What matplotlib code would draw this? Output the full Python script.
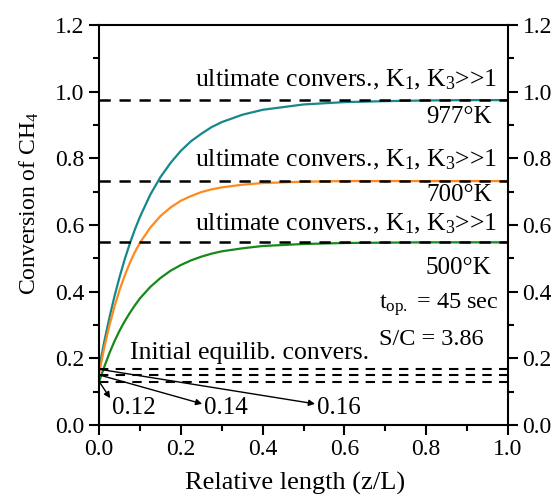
import matplotlib
matplotlib.use("Agg")
import matplotlib.pyplot as plt
from matplotlib.ticker import MultipleLocator

plt.rcParams['font.family'] = ['Liberation Serif', 'DejaVu Serif']
plt.rcParams['mathtext.fontset'] = 'custom'
plt.rcParams['mathtext.rm'] = 'Liberation Serif'
plt.rcParams['mathtext.it'] = 'Liberation Serif'

# values
z = [0.0, 0.0125, 0.025, 0.0375, 0.05, 0.0625, 0.075, 0.0875, 0.1, 0.125, 0.15,
     0.175, 0.2, 0.225, 0.25, 0.275, 0.3, 0.35, 0.4, 0.5, 0.6, 0.7, 0.8, 0.9, 1.0]
conv_977 = [0.17, 0.250, 0.321, 0.386, 0.444, 0.497, 0.544, 0.587, 0.625, 0.691,
            0.744, 0.787, 0.823, 0.852, 0.874, 0.894, 0.909, 0.931, 0.946, 0.962,
            0.969, 0.972, 0.974, 0.975, 0.975]
conv_700 = [0.155, 0.232, 0.298, 0.355, 0.405, 0.448, 0.486, 0.519, 0.547, 0.592,
            0.627, 0.653, 0.673, 0.687, 0.699, 0.707, 0.713, 0.721, 0.726, 0.730,
            0.732, 0.732, 0.732, 0.732, 0.732]
conv_500 = [0.13, 0.174, 0.215, 0.251, 0.283, 0.311, 0.336, 0.359, 0.380, 0.414,
            0.441, 0.463, 0.480, 0.494, 0.505, 0.514, 0.521, 0.530, 0.537, 0.543,
            0.546, 0.547, 0.548, 0.548, 0.548]

ultimate = [0.975, 0.732, 0.548]
temp_labels = ["977°K", "700°K", "500°K"]
initial = [0.167, 0.15, 0.13]
initial_labels = ["0.16", "0.14", "0.12"]

colors = ["#16878A", "#FF8A1C", "#17881A"]

fig = plt.figure(figsize=(5.57, 4.94), dpi=100)
ax = fig.add_axes([0.178, 0.140, 0.734, 0.809])

for y, c in zip([conv_977, conv_700, conv_500], colors):
    ax.plot(z, y, color=c, lw=1.6, zorder=2)

for u in ultimate:
    ax.axhline(u, color="black", lw=1.8, ls=(0, (4.5, 3.5)), zorder=3)
for v in initial:
    ax.axhline(v, color="black", lw=1.5, ls=(0, (4.5, 3.5)), zorder=3)

fs = 18.5
ult_y = [1.035, 0.795, 0.603]
temp_y = [0.924, 0.689, 0.47]
for uy, ty, lab in zip(ult_y, temp_y, temp_labels):
    ax.text(0.975, uy, r"ultimate convers., K$_1$, K$_3$>>1", ha="right",
            va="center", fontsize=fs)
    ax.text(0.96, ty, lab, ha="right", va="center", fontsize=18)

ax.text(0.685, 0.36, r"t$_{\mathrm{op.}}$ = 45 sec", ha="left", va="center", fontsize=17.5)
ax.text(0.685, 0.255, "S/C = 3.86", ha="left", va="center", fontsize=17.5)
ax.text(0.075, 0.215, "Initial equilib. convers.", ha="left", va="center", fontsize=fs)

# arrows from the initial lines to their labels
arrow_tips = [(0.528, 0.063), (0.252, 0.063), (0.027, 0.08)]
for v, lab, (tx, ty) in zip(initial, initial_labels, arrow_tips):
    ax.annotate("", xy=(tx, ty), xytext=(0.0, v),
                arrowprops=dict(arrowstyle="-|>", color="black", lw=1.0,
                                mutation_scale=9, shrinkA=0, shrinkB=0))
    ax.text(tx + 0.005, 0.052, lab, ha="left", va="center", fontsize=18)

ax.set_xlim(0, 1.0)
ax.set_ylim(0, 1.2)
ax.xaxis.set_major_locator(MultipleLocator(0.2))
ax.xaxis.set_minor_locator(MultipleLocator(0.1))
ax.yaxis.set_major_locator(MultipleLocator(0.2))
ax.yaxis.set_minor_locator(MultipleLocator(0.1))
ax.xaxis.set_major_formatter(lambda v, p: f"{v:.1f}")
ax.yaxis.set_major_formatter(lambda v, p: f"{v:.1f}")
ax.tick_params(which="both", direction="out", width=1.5, labelsize=17,
               right=True, labelright=True, top=False)
ax.tick_params(which="major", length=7)
ax.tick_params(which="minor", length=4)
for s in ax.spines.values():
    s.set_linewidth(1.5)

ax.set_xlabel("Relative length (z/L)", fontsize=19, labelpad=8)
ax.set_ylabel(r"Conversion of CH$_4$", fontsize=17, labelpad=10)
ax.xaxis.label.set_x(0.48)
ax.yaxis.label.set_y(0.555)

fig.savefig("out.png", dpi=100)
